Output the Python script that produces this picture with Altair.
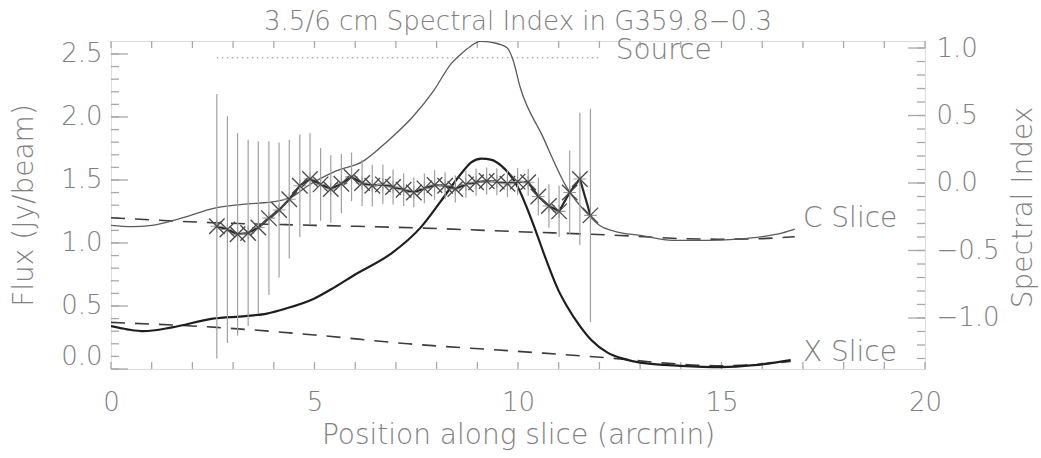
import altair as alt
import pandas as pd

# ---------------------------------------------------------------- data
# C-band (6 cm) slice profile
c_pos = [0.0, 0.5, 1.0, 1.65, 2.6, 3.37, 4.05, 4.47, 4.82, 5.52, 6.2, 6.8, 7.41,
         7.93, 8.35, 8.6, 8.83, 9.07, 9.39, 9.73, 9.88, 10.05, 10.6, 11.2, 11.77,
         12.0, 12.4, 13.0, 13.8, 14.6, 15.4, 16.0, 16.5, 16.8]
c_flux = [1.14, 1.13, 1.14, 1.19, 1.28, 1.31, 1.33, 1.37, 1.45, 1.57, 1.65, 1.81, 2.00,
          2.21, 2.42, 2.50, 2.56, 2.60, 2.59, 2.55, 2.45, 2.24, 1.85, 1.44, 1.21,
          1.14, 1.09, 1.06, 1.02, 1.02, 1.03, 1.05, 1.08, 1.11]

# C-band background level
c_base_pos = [0.0, 2.6, 5.0, 7.5, 10.0, 12.5, 14.0, 15.0, 16.0, 16.8]
c_base_flux = [1.20, 1.16, 1.14, 1.12, 1.09, 1.06, 1.035, 1.03, 1.035, 1.05]

# X-band (3.5 cm) slice profile
x_pos = [0.0, 0.4, 0.8, 1.5, 2.5, 3.3, 3.83, 4.3, 5.0, 5.5, 6.0, 6.9, 7.6, 8.1,
         8.6, 8.85, 9.1, 9.35, 9.6, 9.85, 10.0, 10.35, 10.7, 11.0, 11.2, 11.5,
         11.8, 12.2, 12.6, 13.0, 14.0, 15.0, 15.8, 16.7]
x_flux = [0.34, 0.315, 0.30, 0.33, 0.40, 0.42, 0.44, 0.48, 0.56, 0.65, 0.75, 0.92, 1.12, 1.33,
          1.55, 1.64, 1.67, 1.66, 1.61, 1.52, 1.44, 1.17, 0.86, 0.62, 0.50, 0.35,
          0.23, 0.13, 0.08, 0.05, 0.025, 0.015, 0.03, 0.07]

# X-band background level
x_base_pos = [0.0, 2.6, 5.0, 7.3, 10.0, 12.5, 13.5, 15.0, 16.7]
x_base_flux = [0.37, 0.33, 0.27, 0.20, 0.14, 0.08, 0.05, 0.025, 0.06]

# spectral index across the source, with 1-sigma errors
si_pos = [2.60, 2.86, 3.11, 3.37, 3.62, 3.88, 4.13, 4.38, 4.64, 4.89, 5.15, 5.40,
          5.66, 5.91, 6.17, 6.42, 6.68, 6.93, 7.19, 7.44, 7.70, 7.95, 8.21, 8.46,
          8.72, 8.97, 9.23, 9.48, 9.74, 9.99, 10.25, 10.50, 10.76, 11.01, 11.27,
          11.52, 11.78]
si_val = [-0.32, -0.345, -0.38, -0.37, -0.33, -0.26, -0.20, -0.12, -0.02, 0.03, -0.01,
          -0.045, -0.005, 0.045, 0.0, -0.02, -0.01, -0.03, -0.05, -0.07, -0.04, -0.015,
          -0.02, -0.045, -0.01, 0.005, 0.015, 0.01, -0.005, 0.01, 0.005, -0.10, -0.17,
          -0.21, -0.07, 0.03, -0.24]
si_err = [0.98, 0.84, 0.75, 0.69, 0.64, 0.57, 0.50, 0.44, 0.38, 0.34, 0.27, 0.25,
          0.22, 0.18, 0.17, 0.155, 0.145, 0.13, 0.12, 0.11, 0.11, 0.11, 0.10, 0.10,
          0.10, 0.10, 0.10, 0.10, 0.10, 0.10, 0.10, 0.14, 0.16, 0.19, 0.31, 0.49, 0.79]

# extent of the source and its marker level (flux units)
source_pos = [2.6, 12.06]
source_level = 2.47

# curve labels
labels = ["C Slice", "X Slice", "Source"]
label_pos = [17.0, 17.0, 12.4]
label_flux = [1.19, 0.13, 2.52]

# axis ticks
x_labels = [0, 5, 10, 15, 20]
x_ticks = list(range(0, 21))
flux_labels = [0.0, 0.5, 1.0, 1.5, 2.0, 2.5]
flux_minor = [round(i * 0.1, 1) for i in range(0, 26)]
si_labels = [-1.0, -0.5, 0.0, 0.5, 1.0]
si_minor = [round(-1.3 + i * 0.1, 1) for i in range(0, 24)]

# ---------------------------------------------------------------- style
FONT = "DejaVu Sans"
TXT = "#808080"
FRAME = "#a8a8a8"
W, H = 814, 328

x_scale = alt.Scale(domain=[0, 20], nice=False, zero=False)
flux_scale = alt.Scale(domain=[0, 2.603], nice=False, zero=False)
si_scale = alt.Scale(domain=[-1.378, 1.052], nice=False, zero=False)

x_axis = alt.Axis(
    title="Position along slice (arcmin)", values=x_labels, format="d",
    ticks=False, tickSize=0, domain=False, grid=False,
    labelFont=FONT, labelFontSize=26, labelFontWeight=300, labelColor=TXT,
    labelPadding=20, labelFlush=False,
    titleFont=FONT, titleFontSize=28, titleFontWeight=300, titleColor=TXT,
    titleX=407, titleY=74, titleBaseline="alphabetic", titleAlign="center",
)
flux_axis = alt.Axis(
    title="Flux (Jy/beam)", orient="left", values=flux_labels, format=".1f",
    ticks=False, tickSize=0, domain=False, grid=False,
    labelFont=FONT, labelFontSize=26, labelFontWeight=300, labelColor=TXT,
    labelPadding=9, labelFlush=True,
    titleFont=FONT, titleFontSize=28, titleFontWeight=300, titleColor=TXT,
    titleX=-79, titleY=164, titleAngle=270, titleBaseline="alphabetic",
    titleAlign="center",
)
si_axis = alt.Axis(
    title="Spectral Index", orient="right", values=si_labels, format=".1f",
    ticks=False, tickSize=0, domain=False, grid=False,
    labelFont=FONT, labelFontSize=26, labelFontWeight=300, labelColor=TXT,
    labelPadding=11, labelFlush=False,
    titleFont=FONT, titleFontSize=28, titleFontWeight=300, titleColor=TXT,
    titleX=106, titleY=166, titleAngle=270, titleBaseline="alphabetic",
    titleAlign="center",
)


def X(field="pos"):
    return alt.X(f"{field}:Q", scale=x_scale, axis=x_axis)


def YF(field="flux"):
    return alt.Y(f"{field}:Q", scale=flux_scale, axis=flux_axis)


def YS(field="si"):
    return alt.Y(f"{field}:Q", scale=si_scale, axis=si_axis)


def curve(pos, flux, **mark):
    df = pd.DataFrame({"pos": pos, "flux": flux})
    return alt.Chart(df).mark_line(interpolate="monotone", clip=True, **mark).encode(
        x=X(), y=YF())


# ---------------------------------------------------------------- flux panel
c_line = curve(c_pos, c_flux, color="#5a5a5a", strokeWidth=1.3)
x_line = curve(x_pos, x_flux, color="#1e1e1e", strokeWidth=2.2)
c_base = curve(c_base_pos, c_base_flux, color="#3c3c3c", strokeWidth=1.6,
               strokeDash=[14, 10])
x_base = curve(x_base_pos, x_base_flux, color="#3c3c3c", strokeWidth=1.6,
               strokeDash=[14, 10])

src_df = pd.DataFrame({"pos": source_pos, "flux": [source_level] * 2})
source_line = alt.Chart(src_df).mark_line(
    color="#8a8a8a", strokeWidth=1.2, strokeDash=[1.5, 3.5]).encode(x=X(), y=YF())

lab_df = pd.DataFrame({"pos": label_pos, "flux": label_flux, "text": labels})
text_layer = alt.Chart(lab_df).mark_text(
    align="left", baseline="middle", font=FONT, fontSize=28, fontWeight=300,
    color=TXT).encode(x=X(), y=YF(), text="text:N")

fmaj = pd.DataFrame({"flux": flux_labels})
fmin = pd.DataFrame({"flux": flux_minor})
left_major = alt.Chart(fmaj).mark_rule(color=FRAME, strokeWidth=1.3).encode(
    y=YF(), x=alt.value(0), x2=alt.value(17))
left_minor = alt.Chart(fmin).mark_rule(color=FRAME, strokeWidth=1.3).encode(
    y=YF(), x=alt.value(0), x2=alt.value(8))

xt = pd.DataFrame({"pos": x_ticks})
bottom_ticks = alt.Chart(xt).mark_rule(color=FRAME, strokeWidth=1.3).encode(
    x=X(), y=alt.value(H - 7), y2=alt.value(H))
top_ticks = alt.Chart(xt).mark_rule(color=FRAME, strokeWidth=1.3).encode(
    x=X(), y=alt.value(0), y2=alt.value(7))

flux_panel = alt.layer(
    left_minor, left_major, bottom_ticks, top_ticks,
    source_line, c_base, x_base, c_line, x_line, text_layer,
)

# ---------------------------------------------------------------- spectral index panel
si_df = pd.DataFrame({"pos": si_pos, "si": si_val, "err": si_err})
si_df["lo"] = si_df["si"] - si_df["err"]
si_df["hi"] = si_df["si"] + si_df["err"]

err_bars = alt.Chart(si_df).mark_rule(color="#a0a0a0", strokeWidth=1.2).encode(
    x=X(), y=YS("lo"), y2="hi:Q")
si_line = alt.Chart(si_df).mark_line(color="#2a2a2a", strokeWidth=2.2).encode(
    x=X(), y=YS())
si_plus = alt.Chart(si_df).mark_point(
    shape="M0,-1L0,1M-1,0L1,0", size=160, filled=False, color="#9a9a9a",
    strokeWidth=1.1, opacity=1).encode(x=X(), y=YS())
si_cross = alt.Chart(si_df).mark_point(
    shape="M-1,-1L1,1M-1,1L1,-1", size=240, filled=False, color="#484848",
    strokeWidth=1.3, opacity=1).encode(x=X(), y=YS())

smaj = pd.DataFrame({"si": si_labels})
smin = pd.DataFrame({"si": si_minor})
right_major = alt.Chart(smaj).mark_rule(color=FRAME, strokeWidth=1.3).encode(
    y=YS(), x=alt.value(W - 17), x2=alt.value(W))
right_minor = alt.Chart(smin).mark_rule(color=FRAME, strokeWidth=1.3).encode(
    y=YS(), x=alt.value(W - 8), x2=alt.value(W))

si_panel = alt.layer(right_minor, right_major, err_bars, si_line, si_plus, si_cross)

# ---------------------------------------------------------------- assemble
chart = (
    alt.layer(flux_panel, si_panel)
    .resolve_scale(y="independent")
    .properties(
        width=W, height=H,
        title=alt.TitleParams(
            "3.5/6 cm Spectral Index in G359.8\u22120.3",
            font=FONT, fontSize=26, fontWeight=300, color=TXT,
            anchor="middle", frame="group", baseline="alphabetic", offset=4, dy=25,
        ),
        autosize=alt.AutoSizeParams(type="none"),
        padding={"left": 111, "top": 41, "right": 116, "bottom": 89},
    )
    .configure_view(stroke=FRAME, strokeWidth=1.5)
    .configure(background="white")
)

chart.save("out.html", embed_options={"renderer": "svg", "actions": False})
